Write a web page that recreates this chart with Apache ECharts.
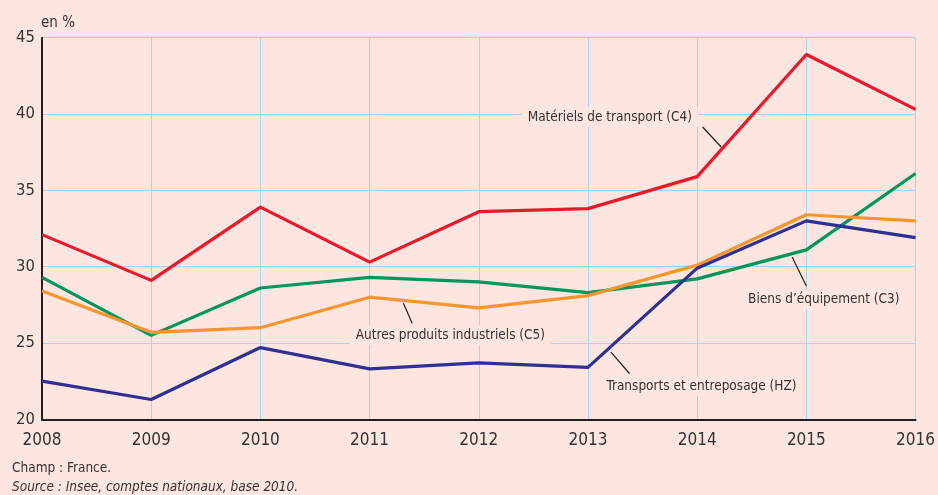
<!DOCTYPE html>
<html>
<head>
<meta charset="utf-8">
<script src="https://cdn.jsdelivr.net/npm/echarts@6/dist/echarts.min.js"></script>
<style>
html,body{margin:0;padding:0;background:#fde6df;overflow:hidden;}
#chart{width:938px;height:495px;}
</style>
</head>
<body>
<div id="chart"></div>
<script>
const years = [2008, 2009, 2010, 2011, 2012, 2013, 2014, 2015, 2016];
const materielsTransport = [32.1, 29.1, 33.9, 30.3, 33.6, 33.8, 35.9, 43.9, 40.3];
const biensEquipement = [29.3, 25.5, 28.6, 29.3, 29.0, 28.3, 29.2, 31.1, 36.1];
const autresProduits = [28.4, 25.7, 26.0, 28.0, 27.3, 28.1, 30.1, 33.4, 33.0];
const transportsEntreposage = [22.5, 21.3, 24.7, 23.3, 23.7, 23.4, 29.9, 33.0, 31.9];
const yTicks = [20, 25, 30, 35, 40, 45];

const FONT = '"DejaVu Sans Condensed", "Liberation Sans Narrow", "Roboto", sans-serif';
const TXT = '#333333';

const seriesDefs = [
  { name: 'Matériels de transport (C4)', values: materielsTransport, color: '#e8192c' },
  { name: 'Biens d\u2019équipement (C3)', values: biensEquipement, color: '#00965e' },
  { name: 'Autres produits industriels (C5)', values: autresProduits, color: '#f7962f' },
  { name: 'Transports et entreposage (HZ)', values: transportsEntreposage, color: '#2e3192' }
];

const annotations = [
  { text: 'Matériels de transport (C4)', at: [2013.2, 39.8], from: [2014.05, 39.15], to: [2014.22, 37.84] },
  { text: 'Autres produits industriels (C5)', at: [2011.74, 25.52], from: [2011.39, 26.3], to: [2011.31, 27.61] },
  { text: 'Biens d\u2019équipement (C3)', at: [2015.16, 27.88], from: [2015.0, 28.73], to: [2014.87, 30.63] },
  { text: 'Transports et entreposage (HZ)', at: [2014.04, 22.18], from: [2013.38, 23.0], to: [2013.21, 24.4] }
];

const chart = echarts.init(document.getElementById('chart'), null, { renderer: 'canvas', width: 938, height: 495 });

chart.setOption({
  backgroundColor: '#fde6df',
  animation: false,
  grid: { left: 42, right: 20, top: 37.7, bottom: 75.7, containLabel: false },
  xAxis: {
    type: 'value',
    min: 2008, max: 2016, interval: 1,
    axisLine: { show: true, lineStyle: { color: '#231f20', width: 2 } },
    axisTick: { show: false },
    splitLine: { show: true, lineStyle: { color: '#a9d4ef', width: 1 } },
    axisLabel: { color: TXT, fontFamily: FONT, fontSize: 17, margin: 13, formatter: v => String(v) }
  },
  yAxis: {
    type: 'value',
    min: yTicks[0], max: yTicks[yTicks.length - 1], interval: 5,
    axisLine: { show: true, lineStyle: { color: '#231f20', width: 2 } },
    axisTick: { show: false },
    splitLine: { show: true, lineStyle: { color: '#a9d4ef', width: 1 } },
    axisLabel: { color: TXT, fontFamily: FONT, fontSize: 16.5, margin: 7 }
  },
  series: seriesDefs.map(s => ({
    type: 'line',
    name: s.name,
    data: years.map((y, i) => [y, s.values[i]]),
    symbol: 'none',
    lineStyle: { color: s.color, width: 3.2 },
    itemStyle: { color: s.color },
    z: 3
  }))
});

const graphics = [
  { type: 'text', left: 41, top: 16, style: { text: 'en %', fill: TXT, font: '15px ' + FONT } },
  { type: 'text', left: 12, top: 461, style: { text: 'Champ : France.', fill: TXT, font: '13.5px ' + FONT } },
  { type: 'text', left: 12, top: 480, style: { text: 'Source : Insee, comptes nationaux, base 2010.', fill: TXT, font: 'italic 13.5px ' + FONT } }
];

annotations.forEach(a => {
  const p = chart.convertToPixel({ gridIndex: 0 }, a.at);
  const f = chart.convertToPixel({ gridIndex: 0 }, a.from);
  const t = chart.convertToPixel({ gridIndex: 0 }, a.to);
  graphics.push({
    type: 'line', z: 4,
    shape: { x1: f[0], y1: f[1], x2: t[0], y2: t[1] },
    style: { stroke: '#231f20', lineWidth: 1.2 }
  });
  graphics.push({
    type: 'text', z: 5,
    x: p[0], y: p[1],
    style: {
      text: a.text, fill: TXT, font: '13.5px ' + FONT,
      align: 'center', verticalAlign: 'middle',
      backgroundColor: '#fde6df', padding: [3, 6]
    }
  });
});

chart.setOption({ graphic: graphics });
</script>
</body>
</html>
